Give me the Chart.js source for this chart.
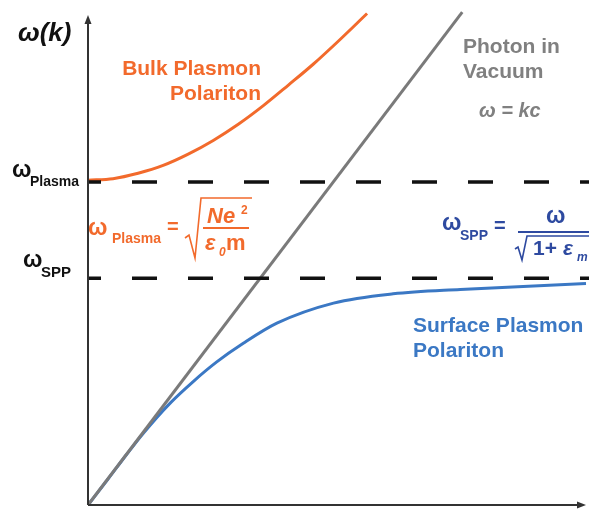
<!DOCTYPE html>
<html>
<head>
<meta charset="utf-8">
<script src="https://cdn.jsdelivr.net/npm/chart.js@4/dist/chart.umd.min.js"></script>
<style>
html,body{margin:0;padding:0;background:#fff;}
canvas{display:block;}
</style>
</head>
<body>
<canvas id="c" width="589" height="514"></canvas>
<script>
// Wavevector k (arbitrary units) and frequency omega (arbitrary units)
const photonK = [0, 7.47];
const photonW = [0, 10.06];

const bulkK = [0, 0.5, 1, 1.5, 2, 2.5, 3, 3.5, 4, 4.5, 5, 5.57];
const bulkW = [6.63, 6.66, 6.77, 6.93, 7.16, 7.44, 7.77, 8.15, 8.57, 9.0, 9.47, 10.03];

const sppK = [0, 0.4, 0.77, 1.10, 1.64, 2.10, 2.57, 3.10, 3.77, 4.90, 6.09, 7.43, 9.94];
const sppW = [0, 0.53, 1.03, 1.46, 2.08, 2.52, 2.92, 3.30, 3.71, 4.12, 4.31, 4.40, 4.52];

const omegaPlasma = 6.59;
const omegaSPP = 4.63;
const kRange = [0, 10];
const wRange = [0, 10];

const ORANGE = '#f26a2c';
const BLUE = '#3b78c4';
const NAVY = '#2e4aa0';
const GRAY = '#808080';

function pts(xs, ys){ return xs.map((x,i)=>({x:x, y:ys[i]})); }

const annotations = {
  id: 'annot',
  afterDatasetsDraw(chart){
    const ctx = chart.ctx;
    const xs = chart.scales.x, ys = chart.scales.y;
    const x0 = xs.getPixelForValue(0), y0 = ys.getPixelForValue(0);
    const yTop = ys.getPixelForValue(wRange[1]);
    ctx.save();
    // axes with arrows
    ctx.strokeStyle = '#333'; ctx.fillStyle = '#333'; ctx.lineWidth = 2;
    ctx.beginPath(); ctx.moveTo(x0, y0); ctx.lineTo(x0, yTop + 4); ctx.stroke();
    ctx.beginPath(); ctx.moveTo(x0, yTop); ctx.lineTo(x0-3.5, yTop+9); ctx.lineTo(x0+3.5, yTop+9); ctx.closePath(); ctx.fill();
    const xEnd = 586;
    ctx.beginPath(); ctx.moveTo(x0, y0); ctx.lineTo(xEnd-4, y0); ctx.stroke();
    ctx.beginPath(); ctx.moveTo(xEnd, y0); ctx.lineTo(xEnd-9, y0-3.5); ctx.lineTo(xEnd-9, y0+3.5); ctx.closePath(); ctx.fill();

    const F = 'Liberation Sans, Arial, sans-serif';
    ctx.textBaseline = 'alphabetic';
    // left axis labels
    ctx.fillStyle = '#111';
    ctx.textAlign = 'left';
    ctx.font = 'italic bold 26px ' + F;
    ctx.fillText('ω(k)', 18, 41);
    ctx.font = 'bold 23px ' + F;
    ctx.fillText('ω', 12, 177);
    ctx.font = 'bold 14px ' + F;
    ctx.fillText('Plasma', 30, 186);
    ctx.font = 'bold 23px ' + F;
    ctx.fillText('ω', 23, 267);
    ctx.font = 'bold 15px ' + F;
    ctx.fillText('SPP', 41, 277);

    // Bulk plasmon label
    ctx.fillStyle = ORANGE;
    ctx.textAlign = 'right';
    ctx.font = 'bold 21px ' + F;
    ctx.fillText('Bulk Plasmon', 261, 75);
    ctx.fillText('Polariton', 261, 100);

    // photon label
    ctx.fillStyle = GRAY;
    ctx.textAlign = 'left';
    ctx.fillText('Photon in', 463, 53);
    ctx.fillText('Vacuum', 463, 78);
    ctx.font = 'italic bold 20px ' + F;
    ctx.fillText('ω = kc', 479, 117);

    // SPP label
    ctx.fillStyle = BLUE;
    ctx.font = 'bold 21px ' + F;
    ctx.fillText('Surface Plasmon', 413, 332);
    ctx.fillText('Polariton', 413, 357);

    // Orange formula
    ctx.fillStyle = ORANGE; ctx.strokeStyle = ORANGE;
    ctx.font = 'bold 23px ' + F;
    ctx.fillText('ω', 88, 235);
    ctx.font = 'bold 14px ' + F;
    ctx.fillText('Plasma', 112, 243);
    ctx.font = 'bold 20px ' + F;
    ctx.fillText('=', 167, 233);
    ctx.lineWidth = 1.6;
    ctx.beginPath(); ctx.moveTo(185, 238); ctx.lineTo(189, 235); ctx.lineTo(195, 258); ctx.lineTo(201, 198); ctx.lineTo(252, 198); ctx.stroke();
    ctx.lineWidth = 2;
    ctx.beginPath(); ctx.moveTo(203, 228); ctx.lineTo(249, 228); ctx.stroke();
    ctx.font = 'italic bold 22px ' + F;
    ctx.fillText('Ne', 207, 223);
    ctx.font = 'bold 12px ' + F;
    ctx.fillText('2', 241, 214);
    ctx.font = 'italic bold 22px ' + F;
    ctx.fillText('ε', 205, 250);
    ctx.font = 'italic bold 12px ' + F;
    ctx.fillText('0', 219, 256);
    ctx.font = 'bold 22px ' + F;
    ctx.fillText('m', 226, 250);

    // Navy formula
    ctx.fillStyle = NAVY; ctx.strokeStyle = NAVY;
    ctx.font = 'bold 23px ' + F;
    ctx.fillText('ω', 442, 230);
    ctx.font = 'bold 14px ' + F;
    ctx.fillText('SPP', 460, 240);
    ctx.font = 'bold 20px ' + F;
    ctx.fillText('=', 494, 232);
    ctx.font = 'bold 23px ' + F;
    ctx.fillText('ω', 546, 223);
    ctx.lineWidth = 2;
    ctx.beginPath(); ctx.moveTo(518, 232); ctx.lineTo(592, 232); ctx.stroke();
    ctx.lineWidth = 1.6;
    ctx.beginPath(); ctx.moveTo(515, 249); ctx.lineTo(518, 247); ctx.lineTo(522, 260); ctx.lineTo(527, 236); ctx.lineTo(592, 236); ctx.stroke();
    ctx.font = 'bold 21px ' + F;
    ctx.fillText('1+', 533, 255);
    ctx.font = 'italic bold 21px ' + F;
    ctx.fillText('ε', 563, 255);
    ctx.font = 'italic bold 12px ' + F;
    ctx.fillText('m', 577, 261);
    ctx.restore();
  }
};

new Chart(document.getElementById('c'), {
  type: 'scatter',
  data: {
    datasets: [
      { data: pts(kRange, [omegaPlasma, omegaPlasma]), showLine: true, borderColor: '#111', borderWidth: 3.5, borderDash: [25, 31], borderDashOffset: 12, pointRadius: 0, clip: false },
      { data: pts(kRange, [omegaSPP, omegaSPP]), showLine: true, borderColor: '#111', borderWidth: 3.5, borderDash: [25, 31], borderDashOffset: 12, pointRadius: 0, clip: false },
      { data: pts(photonK, photonW), showLine: true, borderColor: '#7a7a7a', borderWidth: 3, pointRadius: 0, clip: false },
      { data: pts(bulkK, bulkW), showLine: true, borderColor: ORANGE, borderWidth: 3, pointRadius: 0, cubicInterpolationMode: 'monotone', clip: false },
      { data: pts(sppK, sppW), showLine: true, borderColor: BLUE, borderWidth: 3, pointRadius: 0, cubicInterpolationMode: 'monotone', clip: false }
    ]
  },
  options: {
    responsive: false,
    devicePixelRatio: 1,
    animation: false,
    layout: { padding: { left: 88, right: 0, top: 15, bottom: 9 } },
    plugins: { legend: { display: false }, tooltip: { enabled: false } },
    scales: {
      x: { type: 'linear', display: false, min: kRange[0], max: kRange[1] },
      y: { type: 'linear', display: false, min: wRange[0], max: wRange[1] }
    }
  },
  plugins: [annotations]
});
</script>
</body>
</html>
